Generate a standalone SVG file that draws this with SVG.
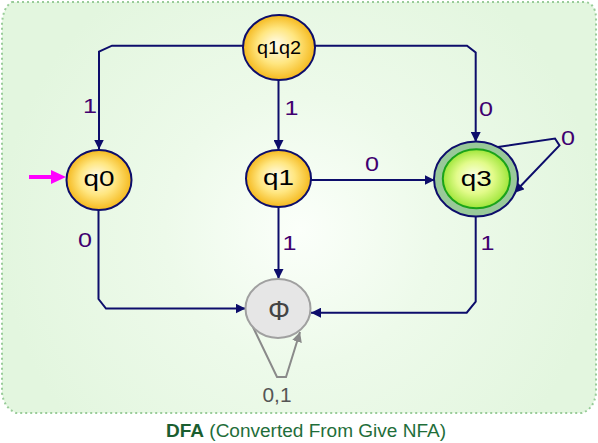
<svg xmlns="http://www.w3.org/2000/svg" width="598" height="443" viewBox="0 0 598 443">
<style>
.edge{fill:none;stroke:#0d0d6b;stroke-width:2;}
.node{stroke:#0d0d6b;stroke-width:2;}
.nt{font-family:"Liberation Sans",Arial,sans-serif;fill:#000;text-anchor:middle;}
.lbl{font-family:"Liberation Sans",Arial,sans-serif;font-size:20px;fill:#400070;text-anchor:middle;}
</style>
<defs>
<radialGradient id="bg" cx="300" cy="230" r="300" gradientUnits="userSpaceOnUse">
<stop offset="0" stop-color="#fbfffa"/>
<stop offset="0.45" stop-color="#edfaea"/>
<stop offset="1" stop-color="#e3f6df"/>
</radialGradient>
<radialGradient id="yel" cx="0.5" cy="0.5" r="0.5" fx="0.45" fy="0.45">
<stop offset="0" stop-color="#fffdf0"/>
<stop offset="0.55" stop-color="#ffe680"/>
<stop offset="1" stop-color="#f5b91e"/>
</radialGradient>
<radialGradient id="grn" cx="0.5" cy="0.5" r="0.5" fx="0.45" fy="0.45">
<stop offset="0" stop-color="#fbffe6"/>
<stop offset="0.55" stop-color="#e2fb8a"/>
<stop offset="1" stop-color="#9fe63a"/>
</radialGradient>
<marker id="ah" markerUnits="userSpaceOnUse" markerWidth="10" markerHeight="10" refX="10" refY="5" orient="auto">
<path d="M0,0 L10,5 L0,10 z" fill="#0d0d6b"/>
</marker>
<marker id="ahg" markerUnits="userSpaceOnUse" markerWidth="10" markerHeight="10" refX="10" refY="5" orient="auto">
<path d="M0,0 L10,5 L0,10 z" fill="#8a8a8a"/>
</marker>
</defs>
<rect width="598" height="443" fill="#ffffff"/>
<path id="panel" d="M12,2 L585,2 Q595,3 596,17 L596,393 Q594,409 582,413 L16,413 Q4,408 2,393 L2,24 Q3,7 12,2 Z" fill="url(#bg)" stroke="#99cc99" stroke-width="2" stroke-dasharray="2,3"/>

<g id="connectors">
<path class="edge" d="M243,45.7 L112,45.7 L99,51.7 L99,149.5" marker-end="url(#ah)"/>
<path class="edge" d="M278.5,80 L278.5,150" marker-end="url(#ah)"/>
<path class="edge" d="M315,45.7 L467,45.7 L475.7,52.5 L475.7,142" marker-end="url(#ah)"/>
<path class="edge" d="M311,180 L434.5,180" marker-end="url(#ah)"/>
<path class="edge" d="M498,147 L555,138.5 L559.5,145.5 L514,193" marker-end="url(#ah)"/>
<path class="edge" d="M475.7,217 L475.7,301.7 L466.7,312.7 L311,312.7" marker-end="url(#ah)"/>
<path class="edge" d="M278.5,207 L278.5,279" marker-end="url(#ah)"/>
<path class="edge" d="M98.5,210 L98.5,299 L106,308.5 L245.5,308.5" marker-end="url(#ah)"/>
<path d="M252,325 L277,377 L286,377 L300,332" fill="none" stroke="#8a8a8a" stroke-width="2" marker-end="url(#ahg)"/>
<path d="M29,177 L54,177" stroke="#ff00ff" stroke-width="4" fill="none"/>
<polygon points="51,170 66,177 51,184" fill="#ff00ff"/>
<text class="lbl" x="90" y="113.3" textLength="14" lengthAdjust="spacingAndGlyphs">1</text>
<text class="lbl" x="291.5" y="115" textLength="14" lengthAdjust="spacingAndGlyphs">1</text>
<text class="lbl" x="486" y="116" textLength="14" lengthAdjust="spacingAndGlyphs">0</text>
<text class="lbl" x="372" y="170.7" textLength="14" lengthAdjust="spacingAndGlyphs">0</text>
<text class="lbl" x="568" y="145" textLength="14" lengthAdjust="spacingAndGlyphs">0</text>
<text class="lbl" x="85" y="246.7" textLength="14" lengthAdjust="spacingAndGlyphs">0</text>
<text class="lbl" x="289.5" y="250" textLength="14" lengthAdjust="spacingAndGlyphs">1</text>
<text class="lbl" x="487.5" y="250" textLength="14" lengthAdjust="spacingAndGlyphs">1</text>
<text class="lbl" x="277" y="401.7" textLength="29" lengthAdjust="spacingAndGlyphs" style="fill:#555555">0,1</text>
</g>

<g id="q1q2">
<ellipse class="node" cx="279" cy="47.5" rx="36" ry="32.5" fill="url(#yel)"/>
<text class="nt" x="279" y="54" font-size="19" textLength="44" lengthAdjust="spacingAndGlyphs">q1q2</text>
</g>
<g id="q0">
<ellipse class="node" cx="99" cy="180" rx="32.5" ry="30" fill="url(#yel)"/>
<text class="nt" x="99" y="185.7" font-size="22" textLength="31" lengthAdjust="spacingAndGlyphs">q0</text>
</g>
<g id="q1">
<ellipse class="node" cx="278.5" cy="178.5" rx="32.5" ry="28.5" fill="url(#yel)"/>
<text class="nt" x="278.5" y="185" font-size="22" textLength="31" lengthAdjust="spacingAndGlyphs">q1</text>
</g>
<g id="q3">
<ellipse class="node" cx="476" cy="179" rx="42" ry="37.5" fill="#99c999"/>
<ellipse cx="476.4" cy="178.8" rx="33.6" ry="29.5" fill="url(#grn)" stroke="#1aa31a" stroke-width="2"/>
<text class="nt" x="476.2" y="185.7" font-size="22" textLength="31" lengthAdjust="spacingAndGlyphs">q3</text>
</g>
<g id="phi">
<ellipse cx="278" cy="308.5" rx="32.5" ry="29.5" fill="#e6e6e6" stroke="#a0a0a0" stroke-width="2"/>
<text class="nt" x="279" y="319.5" font-size="28" textLength="22" lengthAdjust="spacingAndGlyphs" style="fill:#444444">Φ</text>
</g>

<text id="title" x="166" y="437" font-family="'Liberation Sans',Arial,sans-serif" font-size="17.5" fill="#1f6e3a" textLength="280" lengthAdjust="spacingAndGlyphs"><tspan font-weight="bold" fill="#1a5e30">DFA</tspan> (Converted From Give NFA)</text>
</svg>
